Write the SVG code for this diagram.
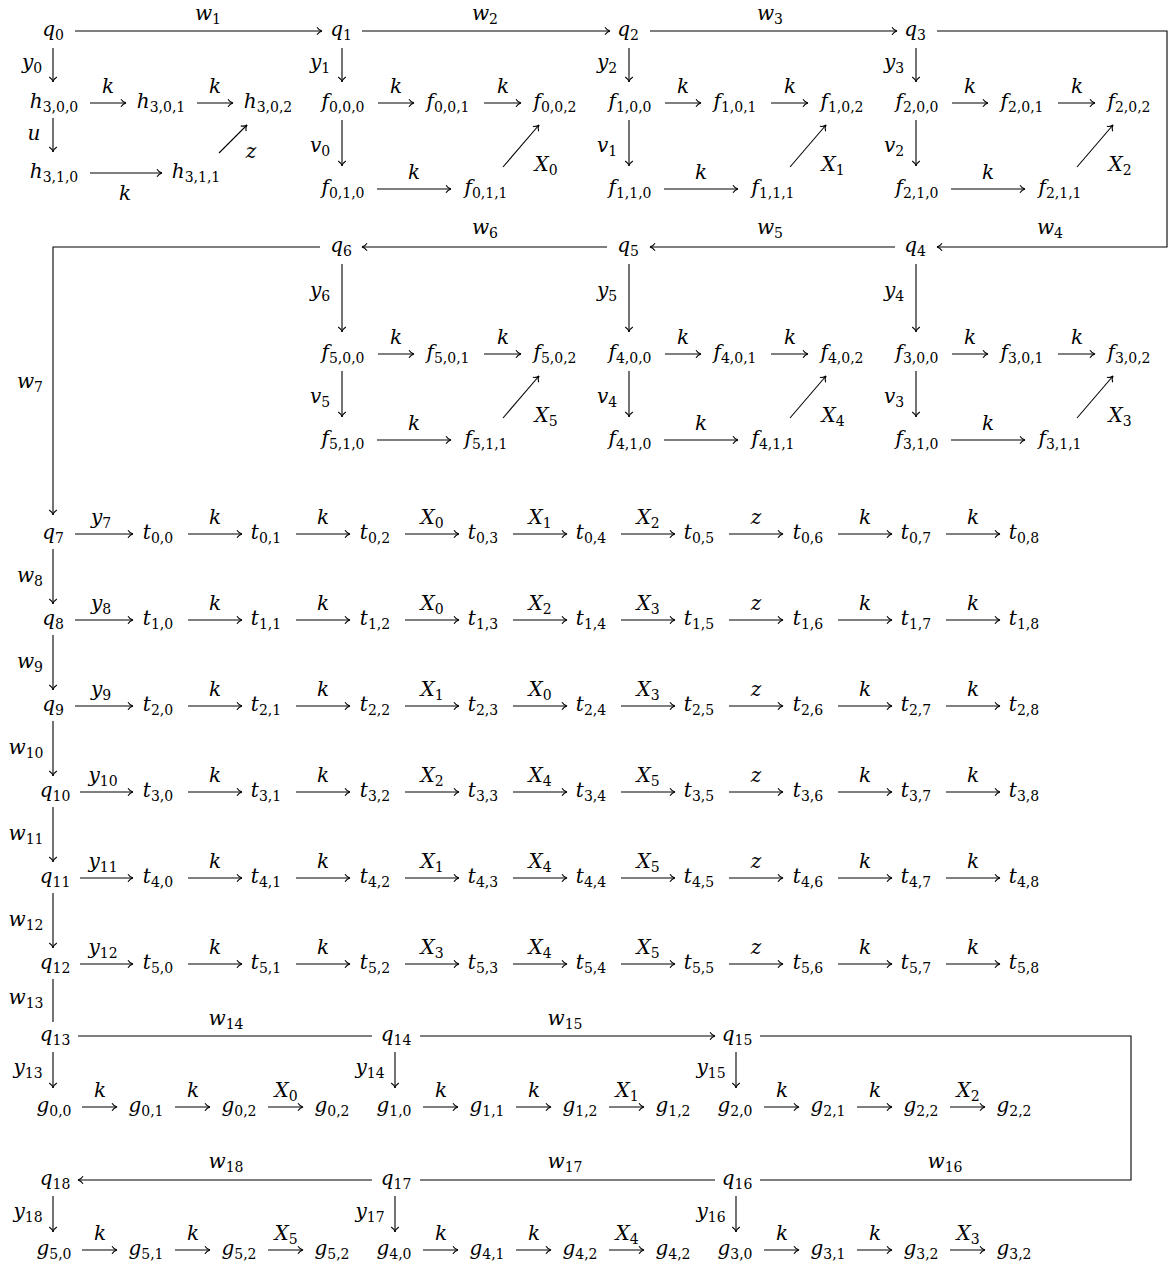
<svg xmlns="http://www.w3.org/2000/svg" width="1173" height="1265" viewBox="0 0 1173 1265">
<style>
text{font-family:"DejaVu Serif","Liberation Serif",serif;font-style:italic;font-size:20px;text-anchor:middle;fill:#000}
.s{font-style:normal;font-size:14px}
.e{fill:none;stroke:#000;stroke-width:1.1}
.a{marker-end:url(#ah)}
</style>
<defs>
<marker id="ah" viewBox="-8 -5 10 10" refX="0" refY="0" markerWidth="10" markerHeight="10" markerUnits="userSpaceOnUse" orient="auto">
<path d="M-5,-3.8 C-3.5,-1.5 -1.5,-0.3 0,0 C-1.5,0.3 -3.5,1.5 -5,3.8" fill="none" stroke="#000" stroke-width="1.1"/>
</marker>
</defs>
<rect width="1173" height="1265" fill="#fff"/>

<g id="connectors">
<path class="e a" d="M75,31 H322"/><text x="208" y="20">w<tspan class="s" dy="4">1</tspan></text>
<path class="e a" d="M362,31 H610"/><text x="485" y="20">w<tspan class="s" dy="4">2</tspan></text>
<path class="e a" d="M650,31 H897"/><text x="770" y="20">w<tspan class="s" dy="4">3</tspan></text>
<path class="e a" d="M937,31 H1167 V247 H937"/><text x="1050" y="234">w<tspan class="s" dy="4">4</tspan></text>
<path class="e a" d="M895,247 H650"/><text x="770" y="234">w<tspan class="s" dy="4">5</tspan></text>
<path class="e a" d="M607,247 H362"/><text x="485" y="234">w<tspan class="s" dy="4">6</tspan></text>
<path class="e a" d="M320,247 H53 V515"/><text x="30" y="388">w<tspan class="s" dy="4">7</tspan></text>
<path class="e a" d="M53,48 V82"/><text x="32" y="69">y<tspan class="s" dy="4">0</tspan></text>
<path class="e a" d="M342,48 V82"/><text x="320" y="69">y<tspan class="s" dy="4">1</tspan></text>
<path class="e a" d="M629,48 V82"/><text x="607" y="69">y<tspan class="s" dy="4">2</tspan></text>
<path class="e a" d="M916,48 V82"/><text x="894" y="69">y<tspan class="s" dy="4">3</tspan></text>
<path class="e a" d="M53,118 V152"/><text x="34" y="140">u</text>
<path class="e a" d="M90,103 H126"/><text x="108" y="93">k</text>
<path class="e a" d="M197,103 H233"/><text x="215" y="93">k</text>
<path class="e a" d="M90,173 H162"/><text x="125" y="200">k</text>
<path class="e a" d="M219,153 L247,125"/><text x="251" y="158">z</text>
<path class="e a" d="M342,120 V166"/><text x="320" y="152">v<tspan class="s" dy="4">0</tspan></text>
<path class="e a" d="M378,103 H414"/><text x="396" y="93">k</text>
<path class="e a" d="M484,103 H521"/><text x="503" y="93">k</text>
<path class="e a" d="M377,189 H451"/><text x="414" y="179">k</text>
<path class="e a" d="M503,167 L539,125"/><text x="546" y="171">X<tspan class="s" dy="4">0</tspan></text>
<path class="e a" d="M629,120 V166"/><text x="607" y="152">v<tspan class="s" dy="4">1</tspan></text>
<path class="e a" d="M665,103 H701"/><text x="683" y="93">k</text>
<path class="e a" d="M771,103 H808"/><text x="790" y="93">k</text>
<path class="e a" d="M664,189 H738"/><text x="701" y="179">k</text>
<path class="e a" d="M790,167 L826,125"/><text x="833" y="171">X<tspan class="s" dy="4">1</tspan></text>
<path class="e a" d="M916,120 V166"/><text x="894" y="152">v<tspan class="s" dy="4">2</tspan></text>
<path class="e a" d="M952,103 H988"/><text x="970" y="93">k</text>
<path class="e a" d="M1058,103 H1095"/><text x="1077" y="93">k</text>
<path class="e a" d="M951,189 H1025"/><text x="988" y="179">k</text>
<path class="e a" d="M1077,167 L1113,125"/><text x="1120" y="171">X<tspan class="s" dy="4">2</tspan></text>
<path class="e a" d="M342,264 V332"/><text x="320" y="297">y<tspan class="s" dy="4">6</tspan></text>
<path class="e a" d="M629,264 V332"/><text x="607" y="297">y<tspan class="s" dy="4">5</tspan></text>
<path class="e a" d="M916,264 V332"/><text x="894" y="297">y<tspan class="s" dy="4">4</tspan></text>
<path class="e a" d="M342,371 V417"/><text x="320" y="403">v<tspan class="s" dy="4">5</tspan></text>
<path class="e a" d="M378,354 H414"/><text x="396" y="344">k</text>
<path class="e a" d="M484,354 H521"/><text x="503" y="344">k</text>
<path class="e a" d="M377,440 H451"/><text x="414" y="430">k</text>
<path class="e a" d="M503,418 L539,376"/><text x="546" y="422">X<tspan class="s" dy="4">5</tspan></text>
<path class="e a" d="M629,371 V417"/><text x="607" y="403">v<tspan class="s" dy="4">4</tspan></text>
<path class="e a" d="M665,354 H701"/><text x="683" y="344">k</text>
<path class="e a" d="M771,354 H808"/><text x="790" y="344">k</text>
<path class="e a" d="M664,440 H738"/><text x="701" y="430">k</text>
<path class="e a" d="M790,418 L826,376"/><text x="833" y="422">X<tspan class="s" dy="4">4</tspan></text>
<path class="e a" d="M916,371 V417"/><text x="894" y="403">v<tspan class="s" dy="4">3</tspan></text>
<path class="e a" d="M952,354 H988"/><text x="970" y="344">k</text>
<path class="e a" d="M1058,354 H1095"/><text x="1077" y="344">k</text>
<path class="e a" d="M951,440 H1025"/><text x="988" y="430">k</text>
<path class="e a" d="M1077,418 L1113,376"/><text x="1120" y="422">X<tspan class="s" dy="4">3</tspan></text>

<g id="t-row0-edges">
<path class="e a" d="M75,534 H133"/><text x="101" y="524">y<tspan class="s" dy="4">7</tspan></text>
<path class="e a" d="M188,534 H242"/><text x="215" y="524">k</text>
<path class="e a" d="M296,534 H350"/><text x="323" y="524">k</text>
<path class="e a" d="M405,534 H459"/><text x="432" y="524">X<tspan class="s" dy="4">0</tspan></text>
<path class="e a" d="M513,534 H567"/><text x="540" y="524">X<tspan class="s" dy="4">1</tspan></text>
<path class="e a" d="M621,534 H675"/><text x="648" y="524">X<tspan class="s" dy="4">2</tspan></text>
<path class="e a" d="M729,534 H783"/><text x="756" y="524">z</text>
<path class="e a" d="M838,534 H892"/><text x="865" y="524">k</text>
<path class="e a" d="M946,534 H1000"/><text x="973" y="524">k</text>
<path class="e a" d="M53,549 V604"/><text x="30" y="582">w<tspan class="s" dy="4">8</tspan></text>
</g>
<g id="t-row1-edges">
<path class="e a" d="M75,620 H133"/><text x="101" y="610">y<tspan class="s" dy="4">8</tspan></text>
<path class="e a" d="M188,620 H242"/><text x="215" y="610">k</text>
<path class="e a" d="M296,620 H350"/><text x="323" y="610">k</text>
<path class="e a" d="M405,620 H459"/><text x="432" y="610">X<tspan class="s" dy="4">0</tspan></text>
<path class="e a" d="M513,620 H567"/><text x="540" y="610">X<tspan class="s" dy="4">2</tspan></text>
<path class="e a" d="M621,620 H675"/><text x="648" y="610">X<tspan class="s" dy="4">3</tspan></text>
<path class="e a" d="M729,620 H783"/><text x="756" y="610">z</text>
<path class="e a" d="M838,620 H892"/><text x="865" y="610">k</text>
<path class="e a" d="M946,620 H1000"/><text x="973" y="610">k</text>
<path class="e a" d="M53,635 V690"/><text x="30" y="668">w<tspan class="s" dy="4">9</tspan></text>
</g>
<g id="t-row2-edges">
<path class="e a" d="M75,706 H133"/><text x="101" y="696">y<tspan class="s" dy="4">9</tspan></text>
<path class="e a" d="M188,706 H242"/><text x="215" y="696">k</text>
<path class="e a" d="M296,706 H350"/><text x="323" y="696">k</text>
<path class="e a" d="M405,706 H459"/><text x="432" y="696">X<tspan class="s" dy="4">1</tspan></text>
<path class="e a" d="M513,706 H567"/><text x="540" y="696">X<tspan class="s" dy="4">0</tspan></text>
<path class="e a" d="M621,706 H675"/><text x="648" y="696">X<tspan class="s" dy="4">3</tspan></text>
<path class="e a" d="M729,706 H783"/><text x="756" y="696">z</text>
<path class="e a" d="M838,706 H892"/><text x="865" y="696">k</text>
<path class="e a" d="M946,706 H1000"/><text x="973" y="696">k</text>
<path class="e a" d="M53,721 V776"/><text x="26" y="754">w<tspan class="s" dy="4">10</tspan></text>
</g>
<g id="t-row3-edges">
<path class="e a" d="M80,792 H133"/><text x="103" y="782">y<tspan class="s" dy="4">10</tspan></text>
<path class="e a" d="M188,792 H242"/><text x="215" y="782">k</text>
<path class="e a" d="M296,792 H350"/><text x="323" y="782">k</text>
<path class="e a" d="M405,792 H459"/><text x="432" y="782">X<tspan class="s" dy="4">2</tspan></text>
<path class="e a" d="M513,792 H567"/><text x="540" y="782">X<tspan class="s" dy="4">4</tspan></text>
<path class="e a" d="M621,792 H675"/><text x="648" y="782">X<tspan class="s" dy="4">5</tspan></text>
<path class="e a" d="M729,792 H783"/><text x="756" y="782">z</text>
<path class="e a" d="M838,792 H892"/><text x="865" y="782">k</text>
<path class="e a" d="M946,792 H1000"/><text x="973" y="782">k</text>
<path class="e a" d="M53,807 V862"/><text x="26" y="840">w<tspan class="s" dy="4">11</tspan></text>
</g>
<g id="t-row4-edges">
<path class="e a" d="M80,878 H133"/><text x="103" y="868">y<tspan class="s" dy="4">11</tspan></text>
<path class="e a" d="M188,878 H242"/><text x="215" y="868">k</text>
<path class="e a" d="M296,878 H350"/><text x="323" y="868">k</text>
<path class="e a" d="M405,878 H459"/><text x="432" y="868">X<tspan class="s" dy="4">1</tspan></text>
<path class="e a" d="M513,878 H567"/><text x="540" y="868">X<tspan class="s" dy="4">4</tspan></text>
<path class="e a" d="M621,878 H675"/><text x="648" y="868">X<tspan class="s" dy="4">5</tspan></text>
<path class="e a" d="M729,878 H783"/><text x="756" y="868">z</text>
<path class="e a" d="M838,878 H892"/><text x="865" y="868">k</text>
<path class="e a" d="M946,878 H1000"/><text x="973" y="868">k</text>
<path class="e a" d="M53,893 V948"/><text x="26" y="926">w<tspan class="s" dy="4">12</tspan></text>
</g>
<g id="t-row5-edges">
<path class="e a" d="M80,964 H133"/><text x="103" y="954">y<tspan class="s" dy="4">12</tspan></text>
<path class="e a" d="M188,964 H242"/><text x="215" y="954">k</text>
<path class="e a" d="M296,964 H350"/><text x="323" y="954">k</text>
<path class="e a" d="M405,964 H459"/><text x="432" y="954">X<tspan class="s" dy="4">3</tspan></text>
<path class="e a" d="M513,964 H567"/><text x="540" y="954">X<tspan class="s" dy="4">4</tspan></text>
<path class="e a" d="M621,964 H675"/><text x="648" y="954">X<tspan class="s" dy="4">5</tspan></text>
<path class="e a" d="M729,964 H783"/><text x="756" y="954">z</text>
<path class="e a" d="M838,964 H892"/><text x="865" y="954">k</text>
<path class="e a" d="M946,964 H1000"/><text x="973" y="954">k</text>
<path class="e" d="M53,979 V1022"/><text x="26" y="1004">w<tspan class="s" dy="4">13</tspan></text>
</g>
<path class="e" d="M78,1036 H372"/><text x="226" y="1025">w<tspan class="s" dy="4">14</tspan></text>
<path class="e a" d="M420,1036 H715"/><text x="565" y="1025">w<tspan class="s" dy="4">15</tspan></text>
<path class="e" d="M760,1036 H1131 V1180 H760"/><text x="945" y="1168">w<tspan class="s" dy="4">16</tspan></text>
<path class="e" d="M715,1180 H420"/><text x="565" y="1168">w<tspan class="s" dy="4">17</tspan></text>
<path class="e a" d="M372,1180 H78"/><text x="226" y="1168">w<tspan class="s" dy="4">18</tspan></text>
<path class="e a" d="M53,1052 V1088"/><text x="28" y="1074">y<tspan class="s" dy="4">13</tspan></text>
<path class="e a" d="M395,1052 V1088"/><text x="370" y="1074">y<tspan class="s" dy="4">14</tspan></text>
<path class="e a" d="M736,1052 V1088"/><text x="711" y="1074">y<tspan class="s" dy="4">15</tspan></text>
<path class="e a" d="M53,1196 V1232"/><text x="28" y="1218">y<tspan class="s" dy="4">18</tspan></text>
<path class="e a" d="M395,1196 V1232"/><text x="370" y="1218">y<tspan class="s" dy="4">17</tspan></text>
<path class="e a" d="M736,1196 V1232"/><text x="711" y="1218">y<tspan class="s" dy="4">16</tspan></text>
<path class="e a" d="M82,1107 H117"/><text x="100" y="1097">k</text>
<path class="e a" d="M175,1107 H210"/><text x="193" y="1097">k</text>
<path class="e a" d="M268,1107 H303"/><text x="286" y="1097">X<tspan class="s" dy="4">0</tspan></text>
<path class="e a" d="M423,1107 H458"/><text x="441" y="1097">k</text>
<path class="e a" d="M516,1107 H551"/><text x="534" y="1097">k</text>
<path class="e a" d="M609,1107 H644"/><text x="627" y="1097">X<tspan class="s" dy="4">1</tspan></text>
<path class="e a" d="M764,1107 H799"/><text x="782" y="1097">k</text>
<path class="e a" d="M857,1107 H892"/><text x="875" y="1097">k</text>
<path class="e a" d="M950,1107 H985"/><text x="968" y="1097">X<tspan class="s" dy="4">2</tspan></text>
<path class="e a" d="M82,1250 H117"/><text x="100" y="1240">k</text>
<path class="e a" d="M175,1250 H210"/><text x="193" y="1240">k</text>
<path class="e a" d="M268,1250 H303"/><text x="286" y="1240">X<tspan class="s" dy="4">5</tspan></text>
<path class="e a" d="M423,1250 H458"/><text x="441" y="1240">k</text>
<path class="e a" d="M516,1250 H551"/><text x="534" y="1240">k</text>
<path class="e a" d="M609,1250 H644"/><text x="627" y="1240">X<tspan class="s" dy="4">4</tspan></text>
<path class="e a" d="M764,1250 H799"/><text x="782" y="1240">k</text>
<path class="e a" d="M857,1250 H892"/><text x="875" y="1240">k</text>
<path class="e a" d="M950,1250 H985"/><text x="968" y="1240">X<tspan class="s" dy="4">3</tspan></text>
</g>

<g id="q0"><text x="53" y="36">q<tspan class="s" dy="4">0</tspan></text></g>
<g id="q1"><text x="341" y="36">q<tspan class="s" dy="4">1</tspan></text></g>
<g id="q2"><text x="628" y="36">q<tspan class="s" dy="4">2</tspan></text></g>
<g id="q3"><text x="915" y="36">q<tspan class="s" dy="4">3</tspan></text></g>
<g id="h300"><text x="54" y="108">h<tspan class="s" dy="4">3,0,0</tspan></text></g>
<g id="h301"><text x="161" y="108">h<tspan class="s" dy="4">3,0,1</tspan></text></g>
<g id="h302"><text x="268" y="108">h<tspan class="s" dy="4">3,0,2</tspan></text></g>
<g id="h310"><text x="54" y="178">h<tspan class="s" dy="4">3,1,0</tspan></text></g>
<g id="h311"><text x="196" y="178">h<tspan class="s" dy="4">3,1,1</tspan></text></g>
<g id="f000"><text x="343" y="108">f<tspan class="s" dy="4">0,0,0</tspan></text></g>
<g id="f001"><text x="448" y="108">f<tspan class="s" dy="4">0,0,1</tspan></text></g>
<g id="f002"><text x="555" y="108">f<tspan class="s" dy="4">0,0,2</tspan></text></g>
<g id="f010"><text x="343" y="194">f<tspan class="s" dy="4">0,1,0</tspan></text></g>
<g id="f011"><text x="486" y="194">f<tspan class="s" dy="4">0,1,1</tspan></text></g>
<g id="f100"><text x="630" y="108">f<tspan class="s" dy="4">1,0,0</tspan></text></g>
<g id="f101"><text x="735" y="108">f<tspan class="s" dy="4">1,0,1</tspan></text></g>
<g id="f102"><text x="842" y="108">f<tspan class="s" dy="4">1,0,2</tspan></text></g>
<g id="f110"><text x="630" y="194">f<tspan class="s" dy="4">1,1,0</tspan></text></g>
<g id="f111"><text x="773" y="194">f<tspan class="s" dy="4">1,1,1</tspan></text></g>
<g id="f200"><text x="917" y="108">f<tspan class="s" dy="4">2,0,0</tspan></text></g>
<g id="f201"><text x="1022" y="108">f<tspan class="s" dy="4">2,0,1</tspan></text></g>
<g id="f202"><text x="1129" y="108">f<tspan class="s" dy="4">2,0,2</tspan></text></g>
<g id="f210"><text x="917" y="194">f<tspan class="s" dy="4">2,1,0</tspan></text></g>
<g id="f211"><text x="1060" y="194">f<tspan class="s" dy="4">2,1,1</tspan></text></g>
<g id="q6"><text x="341" y="252">q<tspan class="s" dy="4">6</tspan></text></g>
<g id="q5"><text x="628" y="252">q<tspan class="s" dy="4">5</tspan></text></g>
<g id="q4"><text x="915" y="252">q<tspan class="s" dy="4">4</tspan></text></g>
<g id="f500"><text x="343" y="359">f<tspan class="s" dy="4">5,0,0</tspan></text></g>
<g id="f501"><text x="448" y="359">f<tspan class="s" dy="4">5,0,1</tspan></text></g>
<g id="f502"><text x="555" y="359">f<tspan class="s" dy="4">5,0,2</tspan></text></g>
<g id="f510"><text x="343" y="445">f<tspan class="s" dy="4">5,1,0</tspan></text></g>
<g id="f511"><text x="486" y="445">f<tspan class="s" dy="4">5,1,1</tspan></text></g>
<g id="f400"><text x="630" y="359">f<tspan class="s" dy="4">4,0,0</tspan></text></g>
<g id="f401"><text x="735" y="359">f<tspan class="s" dy="4">4,0,1</tspan></text></g>
<g id="f402"><text x="842" y="359">f<tspan class="s" dy="4">4,0,2</tspan></text></g>
<g id="f410"><text x="630" y="445">f<tspan class="s" dy="4">4,1,0</tspan></text></g>
<g id="f411"><text x="773" y="445">f<tspan class="s" dy="4">4,1,1</tspan></text></g>
<g id="f300"><text x="917" y="359">f<tspan class="s" dy="4">3,0,0</tspan></text></g>
<g id="f301"><text x="1022" y="359">f<tspan class="s" dy="4">3,0,1</tspan></text></g>
<g id="f302"><text x="1129" y="359">f<tspan class="s" dy="4">3,0,2</tspan></text></g>
<g id="f310"><text x="917" y="445">f<tspan class="s" dy="4">3,1,0</tspan></text></g>
<g id="f311"><text x="1060" y="445">f<tspan class="s" dy="4">3,1,1</tspan></text></g>

<g id="q7"><text x="53" y="539">q<tspan class="s" dy="4">7</tspan></text></g>
<g id="t00"><text x="158" y="539">t<tspan class="s" dy="4">0,0</tspan></text></g>
<g id="t01"><text x="266" y="539">t<tspan class="s" dy="4">0,1</tspan></text></g>
<g id="t02"><text x="375" y="539">t<tspan class="s" dy="4">0,2</tspan></text></g>
<g id="t03"><text x="483" y="539">t<tspan class="s" dy="4">0,3</tspan></text></g>
<g id="t04"><text x="591" y="539">t<tspan class="s" dy="4">0,4</tspan></text></g>
<g id="t05"><text x="699" y="539">t<tspan class="s" dy="4">0,5</tspan></text></g>
<g id="t06"><text x="808" y="539">t<tspan class="s" dy="4">0,6</tspan></text></g>
<g id="t07"><text x="916" y="539">t<tspan class="s" dy="4">0,7</tspan></text></g>
<g id="t08"><text x="1024" y="539">t<tspan class="s" dy="4">0,8</tspan></text></g>

<g id="q8"><text x="53" y="625">q<tspan class="s" dy="4">8</tspan></text></g>
<g id="t10"><text x="158" y="625">t<tspan class="s" dy="4">1,0</tspan></text></g>
<g id="t11"><text x="266" y="625">t<tspan class="s" dy="4">1,1</tspan></text></g>
<g id="t12"><text x="375" y="625">t<tspan class="s" dy="4">1,2</tspan></text></g>
<g id="t13"><text x="483" y="625">t<tspan class="s" dy="4">1,3</tspan></text></g>
<g id="t14"><text x="591" y="625">t<tspan class="s" dy="4">1,4</tspan></text></g>
<g id="t15"><text x="699" y="625">t<tspan class="s" dy="4">1,5</tspan></text></g>
<g id="t16"><text x="808" y="625">t<tspan class="s" dy="4">1,6</tspan></text></g>
<g id="t17"><text x="916" y="625">t<tspan class="s" dy="4">1,7</tspan></text></g>
<g id="t18"><text x="1024" y="625">t<tspan class="s" dy="4">1,8</tspan></text></g>

<g id="q9"><text x="53" y="711">q<tspan class="s" dy="4">9</tspan></text></g>
<g id="t20"><text x="158" y="711">t<tspan class="s" dy="4">2,0</tspan></text></g>
<g id="t21"><text x="266" y="711">t<tspan class="s" dy="4">2,1</tspan></text></g>
<g id="t22"><text x="375" y="711">t<tspan class="s" dy="4">2,2</tspan></text></g>
<g id="t23"><text x="483" y="711">t<tspan class="s" dy="4">2,3</tspan></text></g>
<g id="t24"><text x="591" y="711">t<tspan class="s" dy="4">2,4</tspan></text></g>
<g id="t25"><text x="699" y="711">t<tspan class="s" dy="4">2,5</tspan></text></g>
<g id="t26"><text x="808" y="711">t<tspan class="s" dy="4">2,6</tspan></text></g>
<g id="t27"><text x="916" y="711">t<tspan class="s" dy="4">2,7</tspan></text></g>
<g id="t28"><text x="1024" y="711">t<tspan class="s" dy="4">2,8</tspan></text></g>

<g id="q10"><text x="55" y="797">q<tspan class="s" dy="4">10</tspan></text></g>
<g id="t30"><text x="158" y="797">t<tspan class="s" dy="4">3,0</tspan></text></g>
<g id="t31"><text x="266" y="797">t<tspan class="s" dy="4">3,1</tspan></text></g>
<g id="t32"><text x="375" y="797">t<tspan class="s" dy="4">3,2</tspan></text></g>
<g id="t33"><text x="483" y="797">t<tspan class="s" dy="4">3,3</tspan></text></g>
<g id="t34"><text x="591" y="797">t<tspan class="s" dy="4">3,4</tspan></text></g>
<g id="t35"><text x="699" y="797">t<tspan class="s" dy="4">3,5</tspan></text></g>
<g id="t36"><text x="808" y="797">t<tspan class="s" dy="4">3,6</tspan></text></g>
<g id="t37"><text x="916" y="797">t<tspan class="s" dy="4">3,7</tspan></text></g>
<g id="t38"><text x="1024" y="797">t<tspan class="s" dy="4">3,8</tspan></text></g>

<g id="q11"><text x="55" y="883">q<tspan class="s" dy="4">11</tspan></text></g>
<g id="t40"><text x="158" y="883">t<tspan class="s" dy="4">4,0</tspan></text></g>
<g id="t41"><text x="266" y="883">t<tspan class="s" dy="4">4,1</tspan></text></g>
<g id="t42"><text x="375" y="883">t<tspan class="s" dy="4">4,2</tspan></text></g>
<g id="t43"><text x="483" y="883">t<tspan class="s" dy="4">4,3</tspan></text></g>
<g id="t44"><text x="591" y="883">t<tspan class="s" dy="4">4,4</tspan></text></g>
<g id="t45"><text x="699" y="883">t<tspan class="s" dy="4">4,5</tspan></text></g>
<g id="t46"><text x="808" y="883">t<tspan class="s" dy="4">4,6</tspan></text></g>
<g id="t47"><text x="916" y="883">t<tspan class="s" dy="4">4,7</tspan></text></g>
<g id="t48"><text x="1024" y="883">t<tspan class="s" dy="4">4,8</tspan></text></g>

<g id="q12"><text x="55" y="969">q<tspan class="s" dy="4">12</tspan></text></g>
<g id="t50"><text x="158" y="969">t<tspan class="s" dy="4">5,0</tspan></text></g>
<g id="t51"><text x="266" y="969">t<tspan class="s" dy="4">5,1</tspan></text></g>
<g id="t52"><text x="375" y="969">t<tspan class="s" dy="4">5,2</tspan></text></g>
<g id="t53"><text x="483" y="969">t<tspan class="s" dy="4">5,3</tspan></text></g>
<g id="t54"><text x="591" y="969">t<tspan class="s" dy="4">5,4</tspan></text></g>
<g id="t55"><text x="699" y="969">t<tspan class="s" dy="4">5,5</tspan></text></g>
<g id="t56"><text x="808" y="969">t<tspan class="s" dy="4">5,6</tspan></text></g>
<g id="t57"><text x="916" y="969">t<tspan class="s" dy="4">5,7</tspan></text></g>
<g id="t58"><text x="1024" y="969">t<tspan class="s" dy="4">5,8</tspan></text></g>

<g id="q13"><text x="55" y="1041">q<tspan class="s" dy="4">13</tspan></text></g>
<g id="q14"><text x="396" y="1041">q<tspan class="s" dy="4">14</tspan></text></g>
<g id="q15"><text x="737" y="1041">q<tspan class="s" dy="4">15</tspan></text></g>
<g id="q18"><text x="55" y="1185">q<tspan class="s" dy="4">18</tspan></text></g>
<g id="q17"><text x="396" y="1185">q<tspan class="s" dy="4">17</tspan></text></g>
<g id="q16"><text x="737" y="1185">q<tspan class="s" dy="4">16</tspan></text></g>

<g id="g00"><text x="54" y="1112">g<tspan class="s" dy="4">0,0</tspan></text></g>
<g id="g01"><text x="146" y="1112">g<tspan class="s" dy="4">0,1</tspan></text></g>
<g id="g02"><text x="239" y="1112">g<tspan class="s" dy="4">0,2</tspan></text></g>
<g id="g02b"><text x="332" y="1112">g<tspan class="s" dy="4">0,2</tspan></text></g>
<g id="g10"><text x="394" y="1112">g<tspan class="s" dy="4">1,0</tspan></text></g>
<g id="g11"><text x="487" y="1112">g<tspan class="s" dy="4">1,1</tspan></text></g>
<g id="g12"><text x="580" y="1112">g<tspan class="s" dy="4">1,2</tspan></text></g>
<g id="g12b"><text x="673" y="1112">g<tspan class="s" dy="4">1,2</tspan></text></g>
<g id="g20"><text x="735" y="1112">g<tspan class="s" dy="4">2,0</tspan></text></g>
<g id="g21"><text x="828" y="1112">g<tspan class="s" dy="4">2,1</tspan></text></g>
<g id="g22"><text x="921" y="1112">g<tspan class="s" dy="4">2,2</tspan></text></g>
<g id="g22b"><text x="1014" y="1112">g<tspan class="s" dy="4">2,2</tspan></text></g>

<g id="g50"><text x="54" y="1255">g<tspan class="s" dy="4">5,0</tspan></text></g>
<g id="g51"><text x="146" y="1255">g<tspan class="s" dy="4">5,1</tspan></text></g>
<g id="g52"><text x="239" y="1255">g<tspan class="s" dy="4">5,2</tspan></text></g>
<g id="g52b"><text x="332" y="1255">g<tspan class="s" dy="4">5,2</tspan></text></g>
<g id="g40"><text x="394" y="1255">g<tspan class="s" dy="4">4,0</tspan></text></g>
<g id="g41"><text x="487" y="1255">g<tspan class="s" dy="4">4,1</tspan></text></g>
<g id="g42"><text x="580" y="1255">g<tspan class="s" dy="4">4,2</tspan></text></g>
<g id="g42b"><text x="673" y="1255">g<tspan class="s" dy="4">4,2</tspan></text></g>
<g id="g30"><text x="735" y="1255">g<tspan class="s" dy="4">3,0</tspan></text></g>
<g id="g31"><text x="828" y="1255">g<tspan class="s" dy="4">3,1</tspan></text></g>
<g id="g32"><text x="921" y="1255">g<tspan class="s" dy="4">3,2</tspan></text></g>
<g id="g32b"><text x="1014" y="1255">g<tspan class="s" dy="4">3,2</tspan></text></g>
</svg>
